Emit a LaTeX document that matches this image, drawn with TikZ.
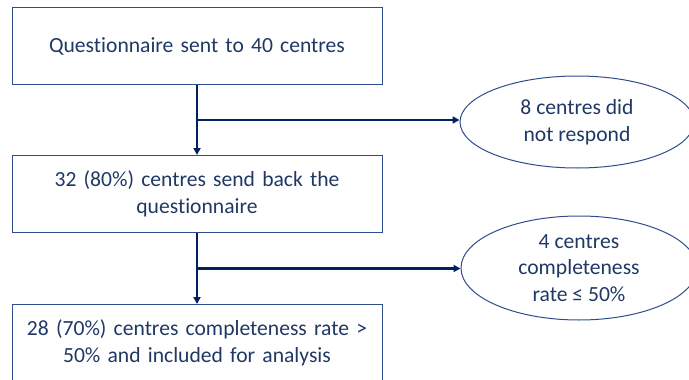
\documentclass[tikz,border=0pt]{standalone}
\usepackage{fontspec}
\setmainfont{Carlito}[Ligatures=NoCommon]
\usetikzlibrary{arrows.meta, positioning, shapes.geometric, calc}
\definecolor{cnavy}{HTML}{1F3864}
\definecolor{cline}{HTML}{002060}
\definecolor{cedge}{HTML}{2F4C8C}
\tikzset{
  every picture/.style={font=\fontsize{21.6}{26.8}\selectfont, line width=1pt},
  box/.style={draw=cedge, rectangle, text=cnavy, align=center, text width=360pt, minimum width=370pt, minimum height=77pt, inner sep=0pt},
  oval/.style={ellipse, draw=cedge, text=cnavy, align=center, inner sep=0pt},
  arrow/.style={-{Triangle[length=7pt, width=7pt]}, draw=cline, line width=2.2pt},
}

\begin{document}
\begin{tikzpicture}[x=1pt, y=1pt]
  \useasboundingbox (0,0) rectangle (689,-380);
  % flow boxes
  \node[box] (sent) at (197,-46) {Questionnaire sent to 40 centres};
  \node[box, below=70pt of sent] (back) {32 (80\%) centres send back the\\questionnaire};
  \node[box, below=71pt of back] (incl) {28 (70\%) centres completeness rate >\\50\% and included for analysis};
  % exclusions
  \node[oval, minimum width=234pt, minimum height=92pt] (noresp) at (577,-122) {8 centres did\\not respond};
  \node[oval, minimum width=236pt, minimum height=104pt] (low) at (579,-268) {4 centres\\completeness\\rate ≤ 50\%};
  \coordinate (b1) at ($(sent.south)!0.5!(back.north)$);
  \coordinate (b2) at ($(back.south)!0.5!(incl.north)$);
  \draw[arrow] (sent) -- (back);
  \draw[arrow] (b1) -- (b1 -| noresp.west);
  \draw[arrow] (back) -- (incl);
  \draw[arrow] (b2) -- (b2 -| low.west);
\end{tikzpicture}
\end{document}
